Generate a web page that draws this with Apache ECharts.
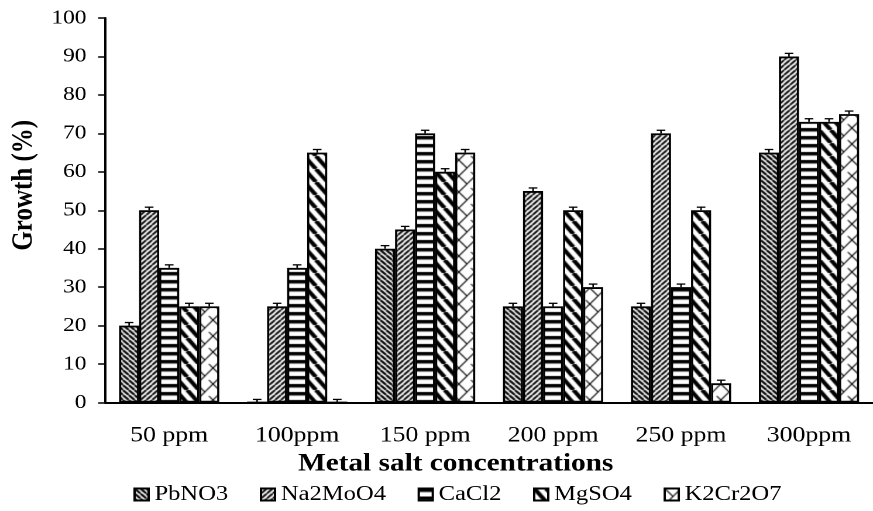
<!DOCTYPE html>
<html>
<head>
<meta charset="utf-8">
<script src="https://cdn.jsdelivr.net/npm/echarts@6/dist/echarts.min.js"></script>
<style>
  html, body { margin: 0; padding: 0; background: #fff; overflow: hidden; }
  /* the chart is laid out at 746px and widened to the 873px page */
  #chart { width: 746px; height: 511px; transform: scaleX(1.1702); transform-origin: 0 0; }
</style>
</head>
<body>
<div id="chart"></div>
<script>
// Growth (%) of the isolate under five metal salts at six concentrations
const categories = ['50 ppm', '100ppm', '150 ppm', '200 ppm', '250 ppm', '300ppm'];
const seriesNames = ['PbNO3', 'Na2MoO4', 'CaCl2', 'MgSO4', 'K2Cr2O7'];
const pbno3   = [20, 0, 40, 25, 25, 65];
const na2moo4 = [50, 25, 45, 55, 70, 90];
const cacl2   = [35, 35, 70, 25, 30, 73];
const mgso4   = [25, 65, 60, 50, 50, 73];
const k2cr2o7 = [25, 0, 65, 30, 5, 75];
// standard error of each mean
const errPbno3   = [0.8, 0.8, 0.8, 0.8, 0.8, 0.8];
const errNa2moo4 = [0.8, 0.8, 0.8, 0.8, 0.8, 0.8];
const errCacl2   = [0.8, 0.8, 0.8, 0.8, 0.8, 0.8];
const errMgso4   = [0.8, 0.8, 0.8, 0.8, 0.8, 0.8];
const errK2cr2o7 = [0.8, 0.8, 0.8, 0.8, 0.8, 0.8];
const yTicks = [0, 10, 20, 30, 40, 50, 60, 70, 80, 90, 100];

const values = [pbno3, na2moo4, cacl2, mgso4, k2cr2o7];
const errors = [errPbno3, errNa2moo4, errCacl2, errMgso4, errK2cr2o7];

// ---- black & white fill patterns ----
function tile(w, h, draw) {
  const c = document.createElement('canvas');
  c.width = w; c.height = h;
  const g = c.getContext('2d');
  g.fillStyle = '#fff';
  g.fillRect(0, 0, w, h);
  g.strokeStyle = '#000';
  g.fillStyle = '#000';
  draw(g, w, h);
  return { image: c, repeat: 'repeat' };
}
function diagonal(w, h, lw, down) {
  return tile(w, h, function (g) {
    g.lineWidth = lw;
    g.beginPath();
    for (let k = -1; k <= 1; k++) {
      if (down) { g.moveTo(k * w, 0); g.lineTo(k * w + w, h); }
      else { g.moveTo(k * w, h); g.lineTo(k * w + w, 0); }
    }
    g.stroke();
  });
}
const patterns = [
  diagonal(5, 5, 2.0, true),                  // narrow downward diagonal
  diagonal(5, 5, 1.8, false),                 // narrow upward diagonal
  tile(8, 8, function (g) { g.fillRect(0, 0, 8, 3.5); }), // horizontal bands
  diagonal(10, 13, 3.8, true),                // wide downward diagonal
  tile(14, 16, function (g) {                 // zig-zag lattice
    g.lineWidth = 1.1;
    g.beginPath();
    g.moveTo(0, 0); g.lineTo(7, 8); g.lineTo(0, 16);
    g.moveTo(7, 8); g.lineTo(14, 0);
    g.moveTo(10.5, 12); g.lineTo(14, 16);
    g.stroke();
  })
];

const GAP = 0.217; // share of each category left empty
const FONT = 'Liberation Serif';

const barSeries = seriesNames.map(function (name, si) {
  return {
    name: name,
    type: 'bar',
    data: values[si],
    barGap: '0%',
    barCategoryGap: (GAP * 100) + '%',
    itemStyle: { color: patterns[si], borderColor: '#000', borderWidth: 1.8 },
    emphasis: { disabled: true },
    z: 2
  };
});

const errorSeries = seriesNames.map(function (name, si) {
  return {
    name: name + ' error',
    type: 'custom',
    z: 5,
    silent: true,
    data: values[si].map(function (v, ci) { return [ci, v, errors[si][ci]]; }),
    renderItem: function (params, api) {
      const ci = api.value(0), v = api.value(1), e = api.value(2);
      const base = api.coord([ci, v]);
      const top = api.coord([ci, v + e]);
      const band = api.size([1, 0])[0];
      const barW = band * (1 - GAP) / seriesNames.length;
      const x = base[0] - band * (1 - GAP) / 2 + barW * (si + 0.5);
      const cap = 3.7;
      const st = { stroke: '#000', lineWidth: 1.3 };
      return {
        type: 'group',
        children: [
          { type: 'line', shape: { x1: x, y1: base[1], x2: x, y2: top[1] }, style: st },
          { type: 'line', shape: { x1: x - cap, y1: top[1], x2: x + cap, y2: top[1] }, style: st }
        ]
      };
    }
  };
});

const chart = echarts.init(document.getElementById('chart'), null, { renderer: 'canvas', devicePixelRatio: 2 });
chart.setOption({
  animation: false,
  backgroundColor: '#fff',
  textStyle: { fontFamily: FONT, color: '#000' },
  grid: { left: 73, top: 18, right: 0, bottom: 108.5, containLabel: false },
  legend: {
    data: seriesNames,
    top: 479,
    left: 109,
    icon: 'rect',
    itemWidth: 12,
    itemHeight: 12,
    itemGap: 27,
    textStyle: { fontFamily: FONT, fontSize: 21, color: '#000' }
  },
  xAxis: {
    type: 'category',
    data: categories,
    name: 'Metal salt concentrations',
    nameLocation: 'middle',
    nameGap: 45,
    nameTextStyle: { fontFamily: FONT, fontSize: 25, fontWeight: 'bold', color: '#000', padding: [0, 57, 0, 0] },
    axisLine: { lineStyle: { color: '#000', width: 2 } },
    axisTick: { show: false },
    axisLabel: { fontFamily: FONT, fontSize: 22, color: '#000', margin: 22 },
    splitLine: { show: false }
  },
  yAxis: {
    type: 'value',
    min: yTicks[0],
    max: yTicks[yTicks.length - 1],
    interval: yTicks[1] - yTicks[0],
    name: 'Growth (%)',
    nameLocation: 'middle',
    nameGap: 50,
    nameTextStyle: { fontFamily: FONT, fontSize: 25, fontWeight: 'bold', color: '#000', padding: [0, 0, 0, 50] },
    axisLine: { show: true, lineStyle: { color: '#000', width: 2 } },
    axisTick: { show: true, length: 6, lineStyle: { color: '#000', width: 1.5 } },
    axisLabel: { fontFamily: FONT, fontSize: 20, color: '#000', margin: 16 },
    splitLine: { show: false }
  },
  series: barSeries.concat(errorSeries)
});
</script>
</body>
</html>
